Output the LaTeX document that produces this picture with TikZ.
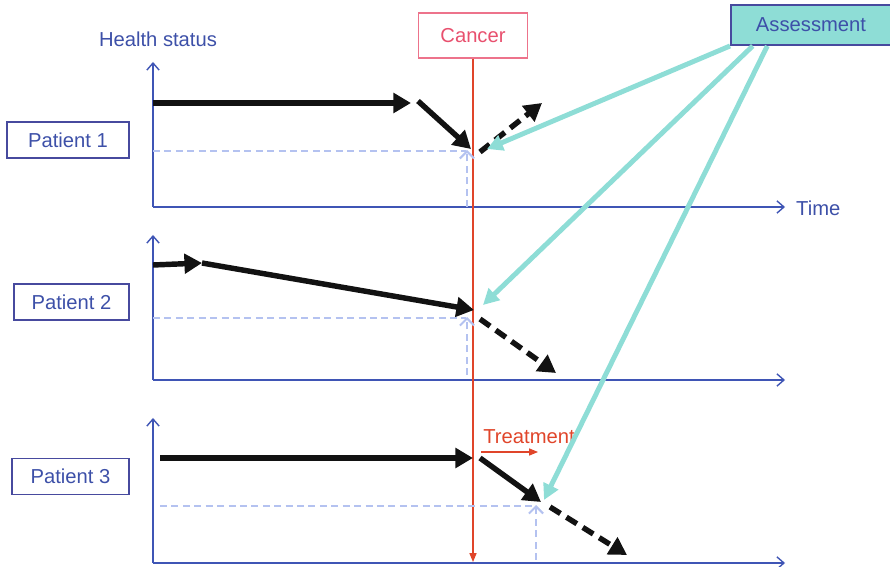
\documentclass[tikz,border=0pt]{standalone}
\usepackage{fontspec}
\setmainfont{Liberation Sans}
\usetikzlibrary{arrows.meta,positioning,calc}
\definecolor{axisblue}{HTML}{3F55B5}
\definecolor{txtblue}{HTML}{3D50A8}
\definecolor{boxblue}{HTML}{474A9E}
\definecolor{guideblue}{HTML}{B4C2F0}
\definecolor{assessteal}{HTML}{8EDDD6}
\definecolor{cancerred}{HTML}{E8506E}
\definecolor{onsetred}{HTML}{E0452A}
\tikzset{
  %% Label boxes
  patbox/.style={
    rectangle, draw=boxblue, line width=1.1pt,
    text=txtblue, font=\fontsize{11.5}{13}\selectfont,
    minimum height=0.72cm},
  cancerbox/.style={
    rectangle, draw=cancerred!80, line width=0.8pt,
    text=cancerred, font=\fontsize{11.5}{13}\selectfont,
    minimum width=2.18cm, minimum height=0.9cm},
  assessbox/.style={
    rectangle, draw=boxblue, line width=1.1pt, fill=assessteal,
    text=txtblue, font=\fontsize{11.5}{13}\selectfont,
    minimum width=3.2cm, minimum height=0.8cm},
  axlabel/.style={text=txtblue, font=\fontsize{11.5}{13}\selectfont},
  %% Arrows
  axis/.style={-{Straight Barb[length=4pt,width=7pt]}, axisblue, line width=0.8pt},
  course/.style={-{Triangle[length=10pt,width=11pt]}, black!93, line width=3.1pt},
  outlook/.style={course, dash pattern=on 7pt off 4pt},
  guide/.style={guideblue, line width=1.2pt, dash pattern=on 4pt off 2.5pt},
  guidetip/.style={guide, -{Straight Barb[length=4pt,width=8pt]}},
  assessarrow/.style={-{Triangle[length=9pt,width=9pt]}, assessteal, line width=2.8pt},
  redline/.style={-{Triangle[length=5pt,width=4pt]}, onsetred, line width=0.6pt},
}

\begin{document}
\begin{tikzpicture}[x=0.02cm, y=-0.02cm]
  \useasboundingbox (0,0) rectangle (890,567);

  %% Top labels
  \node[axlabel] (health) at (158,39) {Health status};
  \node[cancerbox] (cancer) at (473,35.5) {Cancer};
  \node[assessbox] (assess) at (811,25) {Assessment};

  %% Patient boxes
  \node[patbox, minimum width=2.44cm] (pat1) at (68,140)    {Patient 1};
  \node[patbox, minimum width=2.30cm] (pat2) at (71.5,302)  {Patient 2};
  \node[patbox, minimum width=2.34cm] (pat3) at (70.5,476.5){Patient 3};

  %% Axes
  \coordinate (o1) at (153,207);
  \coordinate (o2) at (153,380);
  \coordinate (o3) at (153,563);
  \draw[axis] (o1) -- (153,62);
  \draw[axis] (o1) -- (785,207);
  \node[axlabel, anchor=west] (time) at (790,208) {Time};
  \draw[axis] (o2) -- (153,235);
  \draw[axis] (o2) -- (785,380);
  \draw[axis] (o3) -- (153,418);
  \draw[axis] (o3) -- (785,563);

  %% Cancer onset
  \draw[redline] (cancer.south) -- (473,562);

  %% Patient 1
  \coordinate (a1) at (153,103);
  \coordinate (b1) at (411,103);
  \coordinate (c1) at (418,101);
  \coordinate (d1) at (471,149);
  \coordinate (e1) at (480,152);
  \coordinate (f1) at (542,103);
  \draw[guide] (153,151) -- (466,151);
  \draw[guidetip] (467,207) -- (467,150);
  \draw[course] (a1) -- (b1);
  \draw[course] (c1) -- (d1);
  \draw[outlook] (e1) -- (f1);

  %% Patient 2
  \coordinate (a2) at (153,265);
  \coordinate (b2) at (202,263);
  \coordinate (d2) at (474,310);
  \coordinate (e2) at (480,319);
  \coordinate (f2) at (556,373);
  \draw[guide] (153,318) -- (466,318);
  \draw[guidetip] (467,375) -- (467,317);
  \draw[course] (a2) -- (b2);
  \draw[course] (b2) -- (d2);
  \draw[outlook] (e2) -- (f2);

  %% Patient 3
  \coordinate (a3) at (160,458);
  \coordinate (b3) at (473,458);
  \coordinate (c3) at (480,458);
  \coordinate (d3) at (541,502);
  \coordinate (e3) at (550,507);
  \coordinate (f3) at (627,555);
  \draw[guide] (160,506) -- (535,506);
  \draw[guidetip] (536,560) -- (536,505);
  \draw[course] (a3) -- (b3);
  \draw[course] (c3) -- (d3);
  \draw[outlook] (e3) -- (f3);
  \node[text=onsetred, font=\fontsize{11.5}{13}\selectfont] (treat) at (529,437) {Treatment};
  \draw[redline] (481,452) -- (538,452);

  %% Assessment pointers
  \draw[assessarrow] (assess.south west) -- (487,149);
  \draw[assessarrow] ($(assess.south west)!0.14!(assess.south east)$) -- (483,305);
  \draw[assessarrow] ($(assess.south west)!0.23!(assess.south east)$) -- (544,500);

\end{tikzpicture}
\end{document}
